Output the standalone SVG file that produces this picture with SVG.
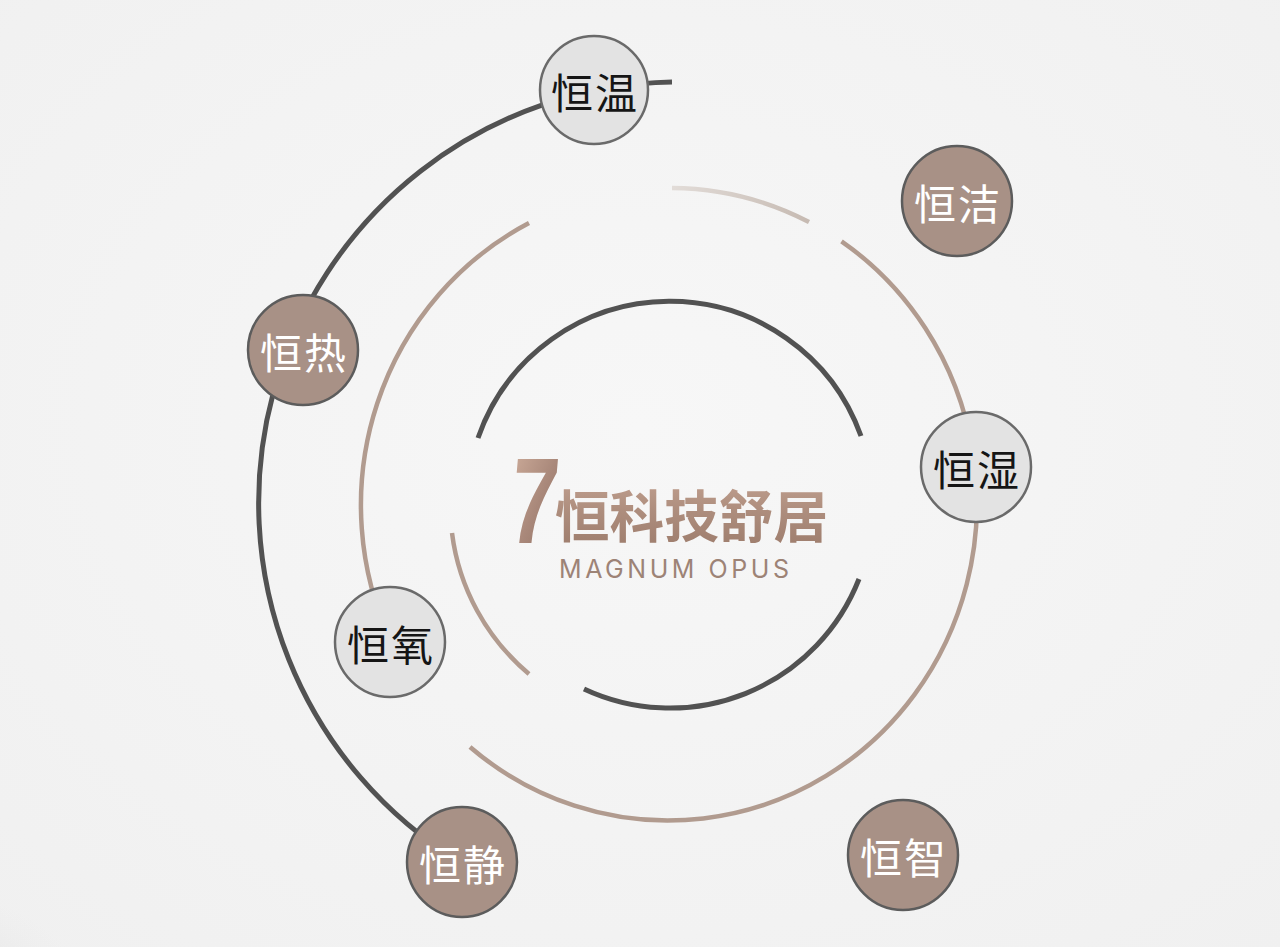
<svg xmlns="http://www.w3.org/2000/svg" width="1280" height="947" viewBox="0 0 1280 947">
  <defs>
    <radialGradient id="bg" cx="0.5" cy="0.45" r="0.75">
      <stop offset="0" stop-color="#f7f7f7"/>
      <stop offset="1" stop-color="#f0f0f0"/>
    </radialGradient>
    <radialGradient id="corner" cx="0" cy="1" r="1">
      <stop offset="0" stop-color="#d6d6d6" stop-opacity="0.9"/>
      <stop offset="1" stop-color="#e6e6e6" stop-opacity="0"/>
    </radialGradient>
    <linearGradient id="fade" x1="672" y1="188" x2="809" y2="222" gradientUnits="userSpaceOnUse">
      <stop offset="0" stop-color="#e2dcd8"/>
      <stop offset="1" stop-color="#c6bab2"/>
    </linearGradient>
    <linearGradient id="gold" x1="0" y1="0" x2="0" y2="1">
      <stop offset="0" stop-color="#c4a392"/>
      <stop offset="0.5" stop-color="#ad8d7d"/>
      <stop offset="1" stop-color="#9c7b6b"/>
    </linearGradient>
    <linearGradient id="gold7" x1="0" y1="0" x2="1" y2="1">
      <stop offset="0" stop-color="#cfae9c"/>
      <stop offset="0.55" stop-color="#a9887a"/>
      <stop offset="1" stop-color="#8f7062"/>
    </linearGradient>
  </defs>
  <style>
    .dark { fill: none; stroke: #525252; stroke-width: 5; stroke-linecap: butt; }
    .tan { fill: none; stroke: #b19b8f; stroke-width: 4.5; }
    .light { fill: none; stroke: url(#fade); stroke-width: 4.5; }
    .node circle { stroke: #5c5c5c; stroke-width: 2.5; }
    .node.brown circle { fill: #a89186; }
    .node.grey circle { fill: #e3e3e3; stroke: #6a6a6a; }
    .node text { font-family: "Noto Sans CJK SC", "Noto Sans", sans-serif; font-size: 42px; font-weight: 400; text-anchor: middle; dominant-baseline: central; letter-spacing: 2px; }
    .node.brown text { fill: #ffffff; }
    .node.grey text { fill: #151515; }
  </style>

  <rect width="1280" height="947" fill="url(#bg)"/>
  <ellipse cx="0" cy="947" rx="90" ry="60" fill="url(#corner)"/>

  <g id="connectors">
    <!-- outer dark arc -->
    <path class="dark" d="M 672 82 A 421 421 0 0 0 461 862.7"/>
    <!-- tan ring segments -->
    <path class="tan" d="M 529 223 A 309 317 0 0 0 391 641.5"/>
    <path class="tan" d="M 470 747 A 309 317 0 1 0 841.5 241.3"/>
    <path class="light" d="M 672 188 A 309 317 0 0 1 809 222"/>
    <!-- inner tan arc -->
    <path class="tan" d="M 452 533 A 220 220 0 0 0 529 674"/>
    <!-- inner dark ring -->
    <path class="dark" d="M 478 438 A 203 203 0 0 1 861 436"/>
    <path class="dark" d="M 859 579 A 203 203 0 0 1 584 689"/>
  </g>

  <g id="title">
    <text transform="translate(507,543) scale(0.7,1) skewX(-7)" font-family="Liberation Sans, Arial, sans-serif" font-weight="700" font-size="122" fill="url(#gold7)">7</text>
    <text x="555" y="512" dominant-baseline="central" font-family="Noto Sans CJK SC, Noto Sans, sans-serif" font-weight="700" font-size="56" fill="url(#gold)" textLength="273" lengthAdjust="spacingAndGlyphs">恒科技舒居</text>
    <text x="559" y="578" font-family="Inter, Lato, sans-serif" font-weight="400" font-size="25" fill="#9d8376" textLength="230" lengthAdjust="spacing">MAGNUM OPUS</text>
  </g>

  <g id="node-hengwen" class="node grey">
    <circle cx="594" cy="90" r="54"/>
    <text x="595" y="90">恒温</text>
  </g>
  <g id="node-hengjie" class="node brown">
    <circle cx="957" cy="201" r="55"/>
    <text x="958" y="201">恒洁</text>
  </g>
  <g id="node-hengre" class="node brown">
    <circle cx="303" cy="350" r="55"/>
    <text x="304" y="350">恒热</text>
  </g>
  <g id="node-hengshi" class="node grey">
    <circle cx="976" cy="467" r="55"/>
    <text x="977" y="467">恒湿</text>
  </g>
  <g id="node-hengyang" class="node grey">
    <circle cx="390" cy="642" r="55"/>
    <text x="391" y="642">恒氧</text>
  </g>
  <g id="node-hengjing" class="node brown">
    <circle cx="462" cy="862" r="55"/>
    <text x="463" y="862">恒静</text>
  </g>
  <g id="node-hengzhi" class="node brown">
    <circle cx="903" cy="855" r="55"/>
    <text x="904" y="855">恒智</text>
  </g>
</svg>
